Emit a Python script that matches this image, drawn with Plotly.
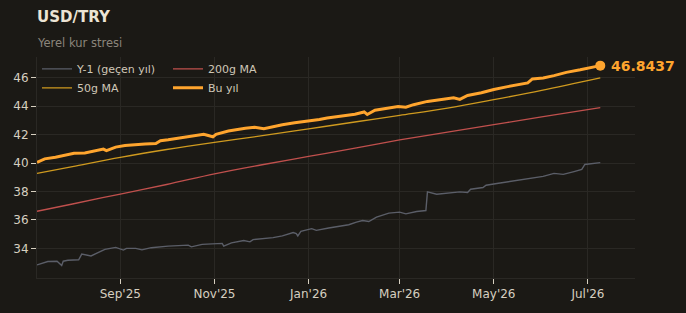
import plotly.graph_objects as go

# ---------------- data ----------------
bu_dates = ["2025-07-09","2025-07-14","2025-07-21","2025-07-27","2025-08-02","2025-08-09","2025-08-16",
            "2025-08-21","2025-08-23","2025-08-29","2025-09-04","2025-09-11","2025-09-17","2025-09-24",
            "2025-09-27","2025-10-02","2025-10-10","2025-10-13","2025-10-20","2025-10-25","2025-10-28",
            "2025-10-31","2025-11-02","2025-11-10","2025-11-21","2025-11-27","2025-12-03","2025-12-08",
            "2025-12-15","2025-12-23","2026-01-01","2026-01-08","2026-01-13","2026-01-22","2026-01-31",
            "2026-02-06","2026-02-08","2026-02-13","2026-02-21","2026-02-28","2026-03-05","2026-03-10",
            "2026-03-19","2026-03-28","2026-04-03","2026-04-05","2026-04-09","2026-04-14","2026-04-23",
            "2026-05-01","2026-05-10","2026-05-17","2026-05-23","2026-05-26","2026-06-02","2026-06-09",
            "2026-06-17","2026-06-26","2026-07-09"]
bu_values = [40.05,40.29,40.40,40.54,40.68,40.70,40.87,
             40.98,40.87,41.12,41.23,41.30,41.33,41.37,
             41.56,41.63,41.75,41.84,41.91,42.02,41.93,
             41.84,42.02,42.25,42.44,42.51,42.41,42.53,
             42.69,42.83,42.95,43.06,43.17,43.31,43.43,
             43.59,43.41,43.71,43.83,43.97,43.92,44.10,
             44.33,44.47,44.59,44.59,44.47,44.75,44.94,
             45.17,45.37,45.51,45.63,45.91,45.98,46.14,
             46.37,46.55,46.8437]

y1_dates = ["2025-07-09","2025-07-16","2025-07-22","2025-07-25","2025-07-26","2025-07-29","2025-08-05",
            "2025-08-07","2025-08-13","2025-08-17","2025-08-22","2025-08-29","2025-09-03","2025-09-05",
            "2025-09-11","2025-09-15","2025-09-21","2025-10-02","2025-10-15","2025-10-17","2025-10-24",
            "2025-11-06","2025-11-07","2025-11-12","2025-11-20","2025-11-24","2025-11-26","2025-12-09",
            "2025-12-15","2025-12-22","2025-12-24","2025-12-25","2025-12-27","2026-01-03","2026-01-06",
            "2026-01-14","2026-01-23","2026-01-27","2026-02-01","2026-02-05","2026-02-09","2026-02-14",
            "2026-02-22","2026-03-01","2026-03-05","2026-03-12","2026-03-18","2026-03-19","2026-03-25",
            "2026-03-31","2026-04-09","2026-04-14","2026-04-16","2026-04-24","2026-04-26","2026-05-03",
            "2026-05-17","2026-06-02","2026-06-09","2026-06-15","2026-06-22","2026-06-27","2026-06-29",
            "2026-07-09"]
y1_values = [32.84,33.08,33.10,32.80,33.10,33.17,33.20,
             33.60,33.47,33.70,33.93,34.07,33.88,34.00,
             34.00,33.90,34.05,34.16,34.23,34.11,34.28,
             34.35,34.16,34.39,34.55,34.46,34.62,34.76,
             34.88,35.11,35.04,34.88,35.20,35.39,35.27,
             35.43,35.57,35.66,35.85,35.96,35.89,36.20,
             36.48,36.55,36.43,36.59,36.66,37.97,37.81,
             37.88,37.97,37.93,38.16,38.28,38.44,38.56,
             38.79,39.06,39.27,39.20,39.40,39.55,39.90,
             40.03]

ma_dates = ["2025-07-09","2025-08-01","2025-09-01","2025-10-01","2025-11-01","2025-12-01","2026-01-01",
            "2026-02-01","2026-03-01","2026-04-01","2026-05-01","2026-06-01","2026-07-09"]
ma50_values = [39.27,39.75,40.40,40.95,41.45,41.90,42.40,42.90,43.35,43.86,44.45,45.10,45.98]
ma200_values = [36.61,37.12,37.82,38.49,39.24,39.86,40.46,41.07,41.62,42.17,42.70,43.24,43.90]

tick_dates = ["2025-09-01","2025-11-01","2026-01-01","2026-03-01","2026-05-01","2026-07-01"]
tick_labels = ["Sep'25","Nov'25","Jan'26","Mar'26","May'26","Jul'26"]
y_ticks = [34, 36, 38, 40, 42, 44, 46]

# ---------------- styling ----------------
BG = "#1b1915"
GRID = "#2a2824"
TXT = "#d6cfc0"
C_Y1 = "#5b5e68"
C_200 = "#c0504d"
C_50 = "#cf9a1f"
C_BU = "#ffa52e"
FONT = "DejaVu Sans"

fig = go.Figure()
fig.add_trace(go.Scatter(x=y1_dates, y=y1_values, mode="lines", name="Y-1 (geçen yıl)",
                         line=dict(color=C_Y1, width=1.4), legend="legend"))
fig.add_trace(go.Scatter(x=ma_dates, y=ma200_values, mode="lines", name="200g MA",
                         line=dict(color=C_200, width=1.3, shape="spline"), legend="legend2"))
fig.add_trace(go.Scatter(x=ma_dates, y=ma50_values, mode="lines", name="50g MA",
                         line=dict(color=C_50, width=1.3, shape="spline"), legend="legend"))
fig.add_trace(go.Scatter(x=bu_dates, y=bu_values, mode="lines", name="Bu yıl",
                         line=dict(color=C_BU, width=3), legend="legend2"))
fig.add_trace(go.Scatter(x=[bu_dates[-1]], y=[bu_values[-1]], mode="markers", showlegend=False,
                         marker=dict(color=C_BU, size=10)))

fig.add_annotation(x=bu_dates[-1], y=bu_values[-1], text=f"<b>{bu_values[-1]:.4f}</b>",
                   showarrow=False, xanchor="left", yanchor="middle", xshift=9,
                   font=dict(family=FONT, size=14, color=C_BU))
fig.add_annotation(xref="paper", yref="paper", x=0, y=1.183, text="<b>USD/TRY</b>",
                   showarrow=False, xanchor="left", yanchor="middle", xshift=-2,
                   font=dict(family=FONT, size=15, color="#ece4d4"))
fig.add_annotation(xref="paper", yref="paper", x=0, y=1.063, text="Yerel kur stresi",
                   showarrow=False, xanchor="left", yanchor="middle", xshift=-2,
                   font=dict(family=FONT, size=11.5, color="#8b857b"))

legend_common = dict(orientation="v", yanchor="top", xanchor="left", bgcolor="rgba(0,0,0,0)",
                     font=dict(family=FONT, size=11, color="#cfc7b7"), tracegroupgap=0)
fig.update_layout(
    width=686, height=313,
    margin=dict(l=37, r=51, t=57, b=33),
    paper_bgcolor=BG, plot_bgcolor=BG,
    font=dict(family=FONT, size=12, color=TXT),
    showlegend=True,
    legend=dict(x=0.0, y=1.012, **legend_common),
    legend2=dict(x=131 / 598, y=1.012, **legend_common),
)
fig.update_xaxes(range=["2025-07-09", "2026-07-31 12:00"], tickvals=tick_dates, ticktext=tick_labels,
                 showgrid=True, gridcolor=GRID, gridwidth=1, zeroline=False,
                 showline=True, linecolor=GRID, linewidth=1,
                 ticks="outside", ticklen=5, tickcolor=TXT, tickfont=dict(size=12, color=TXT))
fig.update_yaxes(range=[31.92, 47.45], tickvals=y_ticks,
                 showgrid=True, gridcolor=GRID, gridwidth=1, zeroline=False,
                 showline=True, linecolor=GRID, linewidth=1,
                 ticks="outside", ticklen=5, tickcolor=TXT, tickfont=dict(size=12, color=TXT))

fig.write_html("out.html")
